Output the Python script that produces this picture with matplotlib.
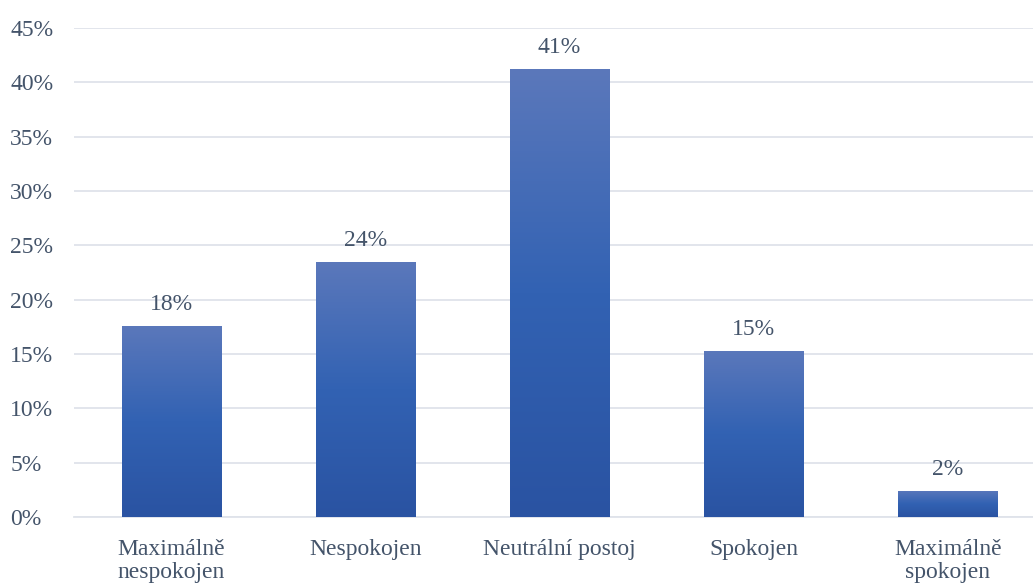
import matplotlib
matplotlib.use("Agg")
import matplotlib.pyplot as plt
import numpy as np
from matplotlib.colors import LinearSegmentedColormap

categories = ["Maximálně\nnespokojen", "Nespokojen", "Neutrální postoj", "Spokojen", "Maximálně\nspokojen"]
values = [0.176, 0.235, 0.412, 0.153, 0.024]
labels = ["18%", "24%", "41%", "15%", "2%"]
yticks = [0, 0.05, 0.10, 0.15, 0.20, 0.25, 0.30, 0.35, 0.40, 0.45]
ytick_labels = ["0%", "5%", "10%", "15%", "20%", "25%", "30%", "35%", "40%", "45%"]

text_color = "#44546a"
plt.rcParams['font.family'] = ['Liberation Serif', 'DejaVu Serif']
FS = 17

W, H = 1033, 583
fig = plt.figure(figsize=(W / 100, H / 100), dpi=100)
ax = fig.add_axes([74 / W, 1 - 517 / H, 971 / W, 489 / H])

cmap = LinearSegmentedColormap.from_list("g", ["#2a53a2", "#3262b3", "#5b78bb"])
x = np.arange(len(categories))
bars = ax.bar(x, values, width=0.51, color="none", zorder=3)
grad = np.linspace(0, 1, 256).reshape(-1, 1)
for b in bars:
    x0, y0 = b.get_x(), b.get_y()
    w, h = b.get_width(), b.get_height()
    im = ax.imshow(grad, cmap=cmap, origin="lower", aspect="auto",
                   extent=[x0, x0 + w, y0, y0 + h], zorder=3)
    im.set_clip_path(b)

for xi, v, lab in zip(x, values, labels):
    ax.text(xi, v + 0.01, lab, ha="center", va="bottom", fontsize=FS, color=text_color)

ax.set_xlim(-0.5, len(categories) - 0.5)
ax.set_ylim(0, 0.45)
ax.set_yticks(yticks)
ax.set_yticklabels(ytick_labels, fontsize=FS, color=text_color)
ax.set_xticks(x)
ax.set_xticklabels(categories, fontsize=FS, color=text_color, linespacing=1.1)
ax.tick_params(axis="both", length=0)
ax.tick_params(axis="x", pad=16)
ax.grid(axis="y", color="#dfe3ea", linewidth=1.3, zorder=0)
for s in ["top", "right", "left"]:
    ax.spines[s].set_visible(False)
ax.spines["bottom"].set_color("#dfe3ea")
ax.spines["bottom"].set_linewidth(1.3)
for lab in ax.get_yticklabels():
    lab.set_horizontalalignment("left")
ax.tick_params(axis="y", pad=46)

fig.savefig("out.png", dpi=100)
